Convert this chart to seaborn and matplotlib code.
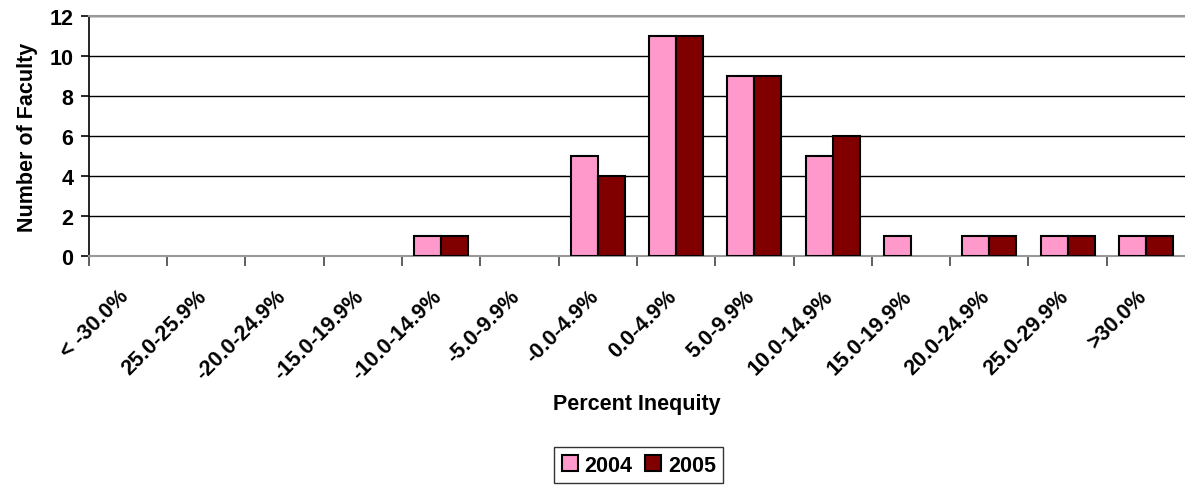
import numpy as np
import pandas as pd
import matplotlib
matplotlib.use('Agg')
import matplotlib.pyplot as plt
import matplotlib.transforms as mtransforms
import seaborn as sns
from matplotlib.ticker import FixedLocator

categories = ['< -30.0%', '25.0-25.9%', '-20.0-24.9%', '-15.0-19.9%', '-10.0-14.9%',
              '-5.0-9.9%', '-0.0-4.9%', '0.0-4.9%', '5.0-9.9%', '10.0-14.9%',
              '15.0-19.9%', '20.0-24.9%', '25.0-29.9%', '>30.0%']
faculty_2004 = [0, 0, 0, 0, 1, 0, 5, 11, 9, 5, 1, 1, 1, 1]
faculty_2005 = [0, 0, 0, 0, 1, 0, 4, 11, 9, 6, 0, 1, 1, 1]
years = ['2004', '2005']

df = pd.DataFrame({
    'Category': categories * 2,
    'Count': faculty_2004 + faculty_2005,
    'Year': [years[0]] * len(categories) + [years[1]] * len(categories),
})

sns.set_style('white')
plt.rcParams['font.family'] = ['Liberation Sans', 'DejaVu Sans']
plt.rcParams['font.weight'] = 'bold'
plt.rcParams['text.color'] = 'black'
plt.rcParams['xtick.color'] = 'black'
plt.rcParams['ytick.color'] = 'black'
plt.rcParams['axes.labelcolor'] = 'black'

fig = plt.figure(figsize=(11.85, 4.89), dpi=100)
ax = fig.add_axes([0.075, 0.474, 0.925, 0.491])

sns.barplot(data=df, x='Category', y='Count', hue='Year', order=categories,
            palette={'2004': '#ff99cc', '2005': '#800000'}, width=0.69,
            edgecolor='black', linewidth=1.5, saturation=1, ax=ax, zorder=3)

# empty bins show nothing in the original
for cont in ax.containers:
    for bar in cont:
        if bar.get_height() == 0:
            bar.set_visible(False)

ax.set_ylim(0, 12)
ax.set_xlim(-0.5, len(categories) - 0.5)
ax.set_yticks(range(0, 13, 2))
ax.yaxis.grid(True, color='black', linewidth=1.0, zorder=0)
ax.set_axisbelow(True)

ax.spines['right'].set_visible(False)
ax.spines['top'].set_color('#999999')
ax.spines['top'].set_linewidth(1.5)
ax.spines['left'].set_color('black')
ax.spines['left'].set_linewidth(1.2)
ax.spines['bottom'].set_color('#999999')
ax.spines['bottom'].set_linewidth(1.5)

ax.set_xticks(range(len(categories)))
ax.set_xticklabels(categories, rotation=45, ha='right', rotation_mode='anchor',
                   fontsize=15.5, fontweight='bold')
ax.tick_params(axis='x', which='major', length=0, pad=21)
shift = mtransforms.ScaledTranslation(-10 / 100, 0, fig.dpi_scale_trans)
for lbl in ax.get_xticklabels():
    lbl.set_transform(lbl.get_transform() + shift)
ax.xaxis.set_minor_locator(FixedLocator(np.arange(-0.5, len(categories) - 0.5, 1)))
ax.tick_params(axis='x', which='minor', length=7, width=1.2, color='#444444', direction='out', bottom=True)
ax.tick_params(axis='y', length=6, width=1.2, direction='out', left=True, labelsize=15.5, pad=5)
for lbl in ax.get_yticklabels():
    lbl.set_fontweight('bold')

ax.set_xlabel('Percent Inequity', fontsize=15.5, fontweight='bold', labelpad=7)
ax.set_ylabel('Number of Faculty', fontsize=15.5, fontweight='bold', labelpad=8)

ax.legend_.remove()
handles, labels = ax.get_legend_handles_labels()
leg = fig.legend(handles, labels, loc='center', bbox_to_anchor=(0.539, 0.0465), ncol=2,
                 frameon=True, fancybox=False, edgecolor='black',
                 prop={'weight': 'bold', 'size': 15.5}, handlelength=0.75, handleheight=0.75,
                 handletextpad=0.3, columnspacing=0.6, borderpad=0.35)
leg.get_frame().set_linewidth(1.0)

fig.savefig('out.png', dpi=100)
